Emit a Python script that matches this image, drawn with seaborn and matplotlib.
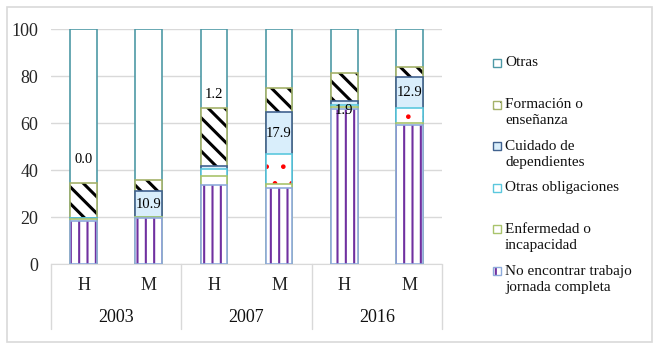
import matplotlib
matplotlib.use('Agg')
import matplotlib.pyplot as plt
import matplotlib.transforms as mtransforms
from matplotlib.patches import Rectangle
import numpy as np
import seaborn as sns

years = ['2003', '2007', '2016']
sexes = ['H', 'M']
bar_labels = ['2003 H', '2003 M', '2007 H', '2007 M', '2016 H', '2016 M']

# % by reason, from the bottom of each stack to the top
no_encontrar = [18.3, 19.8, 33.7, 32.6, 66.2, 59.3]
enfermedad = [1.0, 0.3, 3.9, 1.4, 0.8, 0.7]
otras_obligaciones = [0.2, 0.0, 3.0, 12.9, 0.8, 6.6]
cuidado = [0.0, 10.9, 1.2, 17.9, 1.9, 12.9]
formacion = [14.9, 4.8, 24.9, 10.2, 11.6, 4.5]
otras = [65.6, 64.2, 33.3, 25.0, 18.7, 16.0]

series_names = ['No encontrar trabajo\njornada completa', 'Enfermedad o\nincapacidad',
                'Otras obligaciones', 'Cuidado de\ndependientes',
                'Formación o\nenseñanza', 'Otras']

sns.set_style('white')
plt.rcParams['font.family'] = ['Liberation Serif', 'DejaVu Serif']
plt.rcParams['text.color'] = '#111111'

# face, hatch, hatch colour, outline, hatch width
styles = [
    ('white', '||', '#7030a0', '#8eaadb', 1.5),
    ('white', None, None, '#a9c46c', 1.0),
    ('white', '.', '#ff0000', '#5bc8de', 0.9),
    ('#d9eefb', None, None, '#41628f', 1.0),
    ('white', '\\\\', 'black', '#a4b26a', 2.2),
    ('white', None, None, '#4e99a6', 1.0),
]

stack = [no_encontrar, enfermedad, otras_obligaciones, cuidado, formacion, otras]
cum = np.cumsum(stack, axis=0)

fig = plt.figure(figsize=(6.61, 3.5), dpi=100)
W, H = 661, 350
ax = fig.add_axes([51 / W, 1 - 264.3 / H, (442 - 51) / W, 235 / H])

# draw cumulative totals, tallest first, each one covering the one above
for i in range(len(stack) - 1, -1, -1):
    face, hatch, hcol, edge, hlw = styles[i]
    n0 = len(ax.patches)
    z = 3 + (len(stack) - i) * 2
    with plt.rc_context({'hatch.linewidth': hlw}):
        sns.barplot(x=bar_labels, y=cum[i], ax=ax, color=face, saturation=1,
                    width=0.41, errorbar=None, hatch=hatch,
                    edgecolor=hcol if hatch else edge,
                    linewidth=0 if hatch else 1.2)
    for p in ax.patches[n0:]:
        p.set_zorder(z)
        if hatch:
            if hasattr(p, 'set_hatch_linewidth'):
                p.set_hatch_linewidth(hlw)
            ax.add_patch(Rectangle(p.get_xy(), p.get_width(), p.get_height(),
                                   fill=False, ec=edge, lw=1.2, zorder=z + 0.5))

# value labels for "Cuidado de dependientes"
label_y = [44.6, None, 72.4, None, 65.6, None]
for k, v in enumerate(cuidado):
    y = label_y[k] if label_y[k] is not None else cum[2][k] + v / 2
    ax.text(k, y, f'{v:.1f}', ha='center', va='center', fontsize=10.5,
            color='black', zorder=30)

ax.set_ylim(0, 100)
ax.set_xlim(-0.5, 5.5)
ax.set_yticks(range(0, 101, 20))
ax.set_xticks(range(6))
ax.set_xticklabels(sexes * 3)
ax.yaxis.grid(True, color='#d9d9d9', lw=1.0)
ax.set_axisbelow(True)
for s in ['top', 'right', 'left']:
    ax.spines[s].set_visible(False)
ax.spines['bottom'].set_color('#d9d9d9')
ax.tick_params(axis='y', length=0, pad=9, labelsize=13)
ax.tick_params(axis='x', length=0, pad=9.5, labelsize=13)
ax.set_xlabel('')
ax.set_ylabel('')

# year row and category box lines
trans = mtransforms.blended_transform_factory(ax.transData, ax.transAxes)
for g, yr in enumerate(years):
    ax.text(2 * g + 0.5, (264.3 - 318) / 235, yr, transform=trans,
            ha='center', va='center', fontsize=13)
for xb in [-0.5, 1.5, 3.5, 5.5]:
    ax.plot([xb, xb], [0, (264.3 - 329) / 235], transform=trans,
            color='#d9d9d9', lw=1.0, clip_on=False)

# legend, top entry first
legend_top, legend_step, line_step = 63, 41.6, 16
for j, i in enumerate(range(len(stack) - 1, -1, -1)):
    face, hatch, hcol, edge, hlw = styles[i]
    yc = legend_top + j * legend_step
    box = ((493 / W, 1 - (yc + 4) / H), 8 / W, 8 / H)
    if hatch:
        mark = Rectangle(*box, transform=fig.transFigure, facecolor=face,
                         edgecolor=hcol, lw=0, hatch=hatch)
        if hasattr(mark, 'set_hatch_linewidth'):
            mark.set_hatch_linewidth(hlw)
        fig.patches.append(mark)
    fig.patches.append(Rectangle(*box, transform=fig.transFigure,
                                 facecolor=face if not hatch else 'none',
                                 edgecolor=edge, lw=1.0))
    for li, line in enumerate(series_names[i].split('\n')):
        fig.text(505 / W, 1 - (yc + li * line_step) / H, line,
                 ha='left', va='center', fontsize=11)

# outer frame
fig.patches.append(Rectangle((6.7 / W, 1 - 342 / H), (652 - 6.7) / W, (342 - 7.3) / H,
                             transform=fig.transFigure, fill=False,
                             edgecolor='#d9d9d9', lw=1.2))

fig.savefig('out.png', dpi=100)
